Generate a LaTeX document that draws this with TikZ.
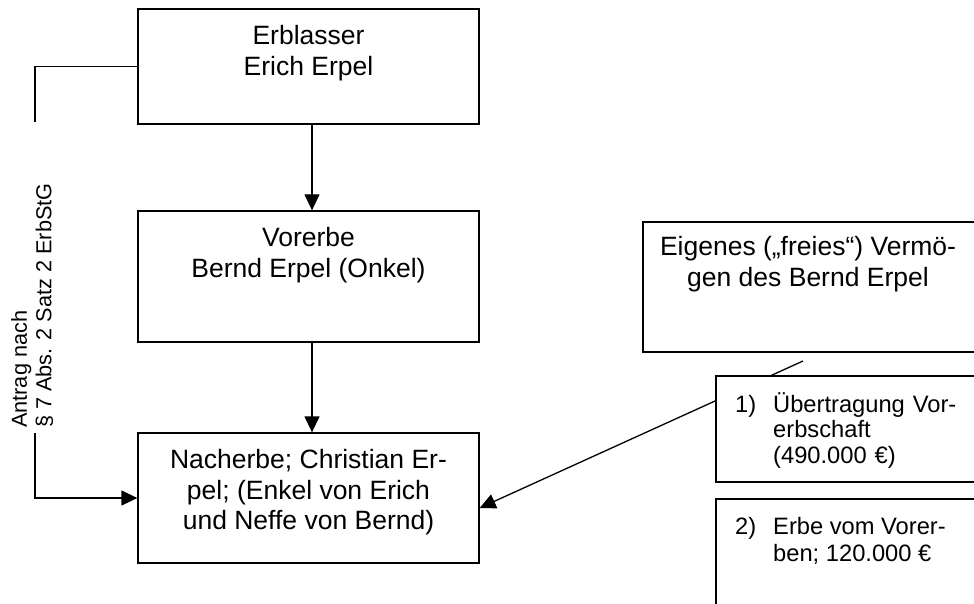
\documentclass[tikz,border=0pt]{standalone}
\usepackage{fontspec}
\setmainfont{Liberation Sans}
\usetikzlibrary{arrows.meta,calc}
\newcommand{\numlabel}[1]{\llap{\makebox[38pt][l]{#1}}}
\begin{document}
\begin{tikzpicture}[x=1pt,y=-1pt,
  box/.style={draw, line width=1.3pt, fill=white, inner sep=0pt},
  line/.style={line width=1.3pt},
  conn/.style={line width=1.3pt, -{Triangle[length=16pt,width=15pt]}},
  big/.style={inner sep=0pt, align=center, font=\fontsize{26.5}{30.5}\selectfont},
  small/.style={inner sep=0pt, align=left, font=\fontsize{23.7}{25.5}\selectfont},
  side/.style={inner sep=0pt, align=left, font=\fontsize{21.7}{24.5}\selectfont}]
\useasboundingbox (0,0) rectangle (974,604);
\clip (0,0) rectangle (974,604);

% family tree boxes
\node[box, minimum width=341pt, minimum height=115pt] (erb) at (308.5,66.5) {};
\node[box, minimum width=341pt, minimum height=131pt] (vor) at (308.5,276.5) {};
\node[box, minimum width=341pt, minimum height=130pt] (nach) at (308.5,498) {};

\node[big, anchor=north] (erbtxt) at (308.5,25.5) {Erblasser\\Erich Erpel};
\node[big, anchor=north] (vortxt) at (308.5,227.5) {Vorerbe\\Bernd Erpel (Onkel)};
\node[big, anchor=north] (nachtxt) at (308.5,449.5) {Nacherbe; Christian Er-\\pel; (Enkel von Erich\\und Neffe von Bernd)};

\draw[conn] ([xshift=3.5pt]erb.south) -- ([xshift=3.5pt]vor.north);
\draw[conn] ([xshift=3.5pt]vor.south) -- ([xshift=3.5pt]nach.north);

% application bracket on the left
\coordinate (brkA) at (35,122);
\coordinate (brkB) at (35,433);
\draw[line] (erb.west) -| (brkA);
\draw[conn] (brkB) |- (nach.west);
\node[side, rotate=90, anchor=north west] (antrag) at (11,428)
  {Antrag nach\\\S\ 7 Abs. 2 Satz 2 ErbStG};

% own assets of the prior heir
\node[box, minimum width=342pt, minimum height=130pt] (eig) at (814,287) {};
\node[big, anchor=north] (eigtxt) at (808,236.5) {Eigenes („freies“) Vermö-\\gen des Bernd Erpel};

\coordinate (eigfoot) at (803,361);
\draw[conn] (eigfoot) -- ($(nach.east)+(0,10)$);

\node[box, minimum width=269pt, minimum height=106pt] (u1) at (850.5,429) {};
\node[box, minimum width=269pt, minimum height=116pt] (u2) at (850.5,557) {};

% numbered transfers, number hanging to the left of the text
\node[small, anchor=north west, text width=182pt] (t1) at (773,392)
  {\numlabel{1)}\makebox[182pt][s]{Übertragung Vor-}\\erbschaft\\(490.000~€)};
\node[small, anchor=north west, font=\fontsize{23.7}{26.7}\selectfont] (t2) at (773,517.5)
  {\numlabel{2)}Erbe vom Vorer-\\ben; 120.000~€};
\end{tikzpicture}
\end{document}
